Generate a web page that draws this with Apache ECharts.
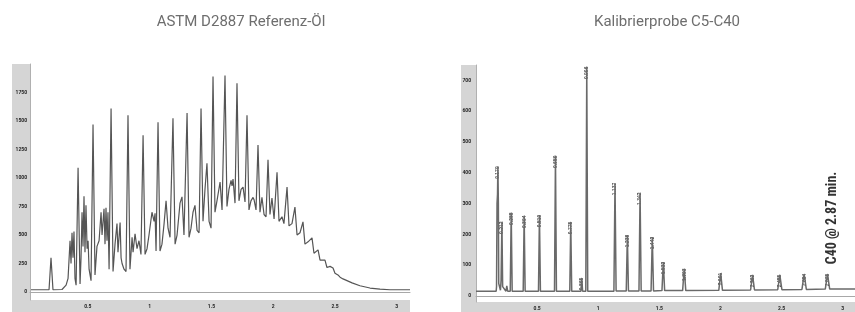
<!DOCTYPE html>
<html>
<head>
<meta charset="utf-8">
<script src="https://cdn.jsdelivr.net/npm/echarts@6.0.0/dist/echarts.min.js"></script>
<style>
    html, body {margin:0; padding:0; background:#fff;}
    #main {width:855px; height:312px;}
</style>
</head>
<body>
<div id="main"></div>
<script>
// ASTM D2887 Referenz-Öl : Zeit (min) / Signal
var oilTime = [0.040,0.186,0.202,0.218,0.291,0.324,0.340,0.356,0.364,0.372,0.380,0.388,0.396,0.405,0.421,0.437,0.445,0.453,0.461,0.469,
    0.477,0.485,0.494,0.502,0.510,0.526,0.542,0.558,0.574,0.591,0.607,0.615,0.631,0.639,0.647,0.655,0.663,0.672,0.688,0.704,
    0.720,0.736,0.744,0.761,0.769,0.777,0.793,0.809,0.825,0.841,0.858,0.866,0.882,0.898,0.914,0.930,0.947,0.963,0.979,0.995,
    1.019,1.036,1.044,1.052,1.068,1.084,1.100,1.117,1.133,1.149,1.165,1.189,1.206,1.222,1.246,1.262,1.278,1.303,1.319,1.335,
    1.351,1.367,1.384,1.400,1.416,1.432,1.448,1.464,1.481,1.497,1.513,1.529,1.545,1.570,1.586,1.610,1.626,1.642,1.659,1.667,
    1.675,1.691,1.707,1.723,1.740,1.756,1.772,1.788,1.804,1.820,1.837,1.845,1.861,1.877,1.893,1.909,1.926,1.942,1.958,1.974,
    1.990,2.007,2.031,2.047,2.071,2.087,2.112,2.128,2.152,2.176,2.193,2.217,2.241,2.257,2.282,2.314,2.330,2.346,2.363,2.379,
    2.395,2.419,2.435,2.460,2.484,2.500,2.524,2.541,2.565,2.597,2.638,2.702,2.783,2.864,2.945,3.107];
var oilSignal = [20,20,300,20,22,60,120,450,250,520,300,530,120,60,1090,70,300,700,400,840,
    350,760,380,450,200,100,1470,150,400,450,700,500,730,420,740,450,700,200,1610,180,
    420,600,350,610,300,250,200,180,1550,200,480,350,510,380,450,330,1375,330,380,500,
    700,620,690,360,1490,360,420,600,800,560,480,1525,420,500,780,835,500,1570,480,560,
    700,760,540,520,1610,620,900,1130,620,560,1890,700,800,965,720,1900,750,900,980,930,
    990,780,1830,800,900,920,790,1550,720,800,830,810,720,1290,700,830,680,660,1160,680,
    825,640,1050,620,660,600,920,580,600,745,500,520,615,420,440,475,340,350,370,280,
    290,280,215,225,210,165,150,130,115,100,80,55,35,25,20,20];
var oilYTicks = [0, 250, 500, 750, 1000, 1250, 1500, 1750];

// Kalibrierprobe C5-C40
var calTime = [0.000,0.165,0.168,0.172,0.176,0.179,0.183,0.186,0.200,0.205,0.212,0.218,0.245,0.252,0.259,0.280,0.288,0.296,
    0.386,0.394,0.402,0.511,0.519,0.527,0.642,0.650,0.658,0.767,0.775,0.783,0.858,0.865,0.872,0.898,0.906,0.914,
    1.128,1.137,1.146,1.229,1.238,1.247,1.333,1.342,1.351,1.432,1.442,1.452,1.521,1.532,1.543,1.690,1.703,1.716,
    1.986,2.001,2.016,2.246,2.262,2.278,2.468,2.485,2.502,2.666,2.684,2.702,2.857,2.875,2.893,3.100];
var calSignal = [15,15,30,300,330,420,300,40,18,50,241,30,15,32,15,15,270,15,
    15,260,15,15,263,15,15,455,15,15,240,15,15,58,15,15,744,15,
    15,367,16,16,198,16,16,335,16,16,191,16,17,110,17,17,88,17,
    18,74,18,19,68,19,20,68,20,21,71,21,22,71,22,22];
var calPeakTime = [0.179,0.212,0.288,0.394,0.519,0.650,0.775,0.865,0.906,1.137,1.238,1.342,1.442,1.532,1.703,2.001,2.262,2.485,2.684,2.875];
var calPeakHeight = [420,241,270,260,263,455,240,58,744,367,198,335,191,110,88,74,68,68,71,71];
var calYTicks = [0, 100, 200, 300, 400, 500, 600, 700];

var timeTicks = [0.5, 1, 1.5, 2, 2.5, 3];

function pairs(xs, ys) {
    return xs.map(function (x, i) { return [x, ys[i]]; });
}

var stripColor = '#d5d5d5';
var tickFont = {fontSize: 5, color: '#222', fontWeight: 'bold', fontFamily: 'Roboto'};

function plain(v) { return String(v); }

function xAxisOf(idx, min, max) {
    return {
        type: 'value', gridIndex: idx, min: min, max: max,
        axisLine: {show: true, lineStyle: {color: '#a8a8a8', width: 1}},
        axisTick: {show: false},
        splitLine: {show: false},
        axisLabel: Object.assign({customValues: timeTicks, margin: 4, formatter: plain}, tickFont)
    };
}

function yAxisOf(idx, min, max, ticks, margin) {
    return {
        type: 'value', gridIndex: idx, min: min, max: max,
        axisLine: {show: true, lineStyle: {color: '#b0b0b0', width: 1}},
        axisTick: {show: false},
        splitLine: {show: false},
        axisLabel: Object.assign({customValues: ticks, margin: margin, formatter: plain}, tickFont)
    };
}

var myChart = echarts.init(document.getElementById('main'), null, {renderer: 'canvas'});

var option = {
    animation: false,
    backgroundColor: '#fff',
    title: [
        {text: 'ASTM D2887 Referenz-Öl', left: 236, top: 10, textAlign: 'center',
            textStyle: {fontSize: 15, fontWeight: 'normal', color: '#6e6e6e', fontFamily: 'Roboto'}},
        {text: 'Kalibrierprobe C5-C40', left: 662, top: 10, textAlign: 'center',
            textStyle: {fontSize: 15, fontWeight: 'normal', color: '#6e6e6e', fontFamily: 'Roboto'}}
    ],
    grid: [
        {left: 30, right: 445, top: 64, bottom: 12},
        {left: 476, right: 0, top: 65, bottom: 10}
    ],
    xAxis: [xAxisOf(0, 0.032, 3.107), xAxisOf(1, 0, 3.1)],
    yAxis: [yAxisOf(0, -70, 2000, oilYTicks, 3), yAxisOf(1, -20, 750, calYTicks, 5)],
    graphic: [
        // graue Achsenleisten
        {type: 'rect', z: -1, silent: true, shape: {x: 12, y: 64, width: 18, height: 248}, style: {fill: stripColor}},
        {type: 'rect', z: -1, silent: true, shape: {x: 12, y: 300, width: 398, height: 12}, style: {fill: stripColor}},
        {type: 'rect', z: -1, silent: true, shape: {x: 461, y: 65, width: 16, height: 247}, style: {fill: stripColor}},
        {type: 'rect', z: -1, silent: true, shape: {x: 461, y: 302, width: 394, height: 10}, style: {fill: stripColor}},
        {type: 'text', x: 832, y: 218, rotation: Math.PI / 2, silent: true,
            style: {text: 'C40 @ 2.87 min.', fill: '#333', font: 'bold 14px "Liberation Sans Narrow", "Roboto Condensed", Roboto, sans-serif',
                textAlign: 'center', textVerticalAlign: 'middle'}}
    ],
    series: [
        {
            name: 'oil', type: 'line', xAxisIndex: 0, yAxisIndex: 0,
            showSymbol: false, symbol: 'none', smooth: false,
            lineStyle: {color: '#555', width: 1.2},
            data: pairs(oilTime, oilSignal)
        },
        {
            name: 'cal', type: 'line', xAxisIndex: 1, yAxisIndex: 1,
            showSymbol: false, symbol: 'none', smooth: false,
            lineStyle: {color: '#6a6a6a', width: 1.5},
            data: pairs(calTime, calSignal)
        },
        {
            // Retentionszeiten an den Peakspitzen
            name: 'rt', type: 'scatter', xAxisIndex: 1, yAxisIndex: 1,
            symbolSize: 0, silent: true,
            label: {
                show: true, position: 'inside', rotate: 90, offset: [-6, 0],
                fontSize: 5, color: '#1a1a1a', fontWeight: 'bold',
                formatter: function (p) { return p.value[0].toFixed(3); }
            },
            data: pairs(calPeakTime, calPeakHeight)
        }
    ]
};

myChart.setOption(option);
</script>
</body>
</html>
